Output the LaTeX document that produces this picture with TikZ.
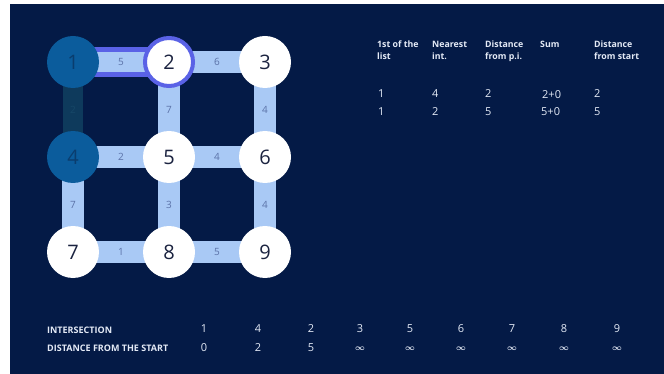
\documentclass[tikz,border=0pt]{standalone}
\usepackage{fontspec}
\setmainfont{Open Sans}
\usetikzlibrary{backgrounds}
\definecolor{navy}{HTML}{041A46}
\definecolor{edgeblue}{HTML}{A9C9F5}
\definecolor{hilite}{HTML}{5A62E6}
\definecolor{visited}{HTML}{0B5C9C}
\definecolor{visitedtxt}{HTML}{0A3D6E}
\definecolor{teal}{HTML}{0E3A5C}
\definecolor{teallab}{HTML}{164767}
\definecolor{elab}{HTML}{5B72A8}
\definecolor{ntxt}{HTML}{1B2340}
\definecolor{tabtxt}{HTML}{E4EAF6}
\pgfdeclarelayer{edges}
\pgfsetlayers{background,edges,main}
\tikzset{
  vnode/.style={circle, fill=white, minimum size=52pt, inner sep=0pt, text=ntxt, font=\fontsize{20}{22}\selectfont},
  donenode/.style={vnode, fill=visited, text=visitedtxt},
  curnode/.style={vnode, draw=hilite, line width=4pt, minimum size=48pt},
  edgebar/.style={draw=edgeblue, line width=22pt},
  doneedge/.style={draw=teal, line width=20pt},
  elabel/.style={text=elab, font=\fontsize{10}{12}\selectfont, inner sep=0pt},
  hdr/.style={text=tabtxt, font=\bfseries\fontsize{8.8}{12}\selectfont, anchor=north west, align=left, inner sep=0pt},
  val/.style={text=tabtxt, font=\fontsize{11}{13}\selectfont, anchor=west, inner sep=0pt},
  rowlab/.style={text=tabtxt, font=\bfseries\fontsize{9}{10}\selectfont, anchor=west, inner sep=0pt},
  bval/.style={text=tabtxt, font=\fontsize{11}{13}\selectfont, inner sep=0pt},
  inf/.style={text=tabtxt, font=\fontsize{8}{9}\selectfont\boldmath, inner sep=0pt}
}
\begin{document}
\begin{tikzpicture}[x=1pt,y=-1pt]
\useasboundingbox (0,0) rectangle (664,374);
\begin{pgfonlayer}{background}
\fill[white] (0,0) rectangle (664,374);
\fill[navy] (10,4) rectangle (664,374);
\end{pgfonlayer}
% nodes
\node[donenode] (n1) at (73,62) {1};
\node[curnode] (n2) at (169,62) {2};
\node[vnode] (n3) at (265,62) {3};
\node[donenode] (n4) at (73,157) {4};
\node[vnode] (n5) at (169,157) {5};
\node[vnode] (n6) at (265,157) {6};
\node[vnode] (n7) at (73,252) {7};
\node[vnode] (n8) at (169,252) {8};
\node[vnode] (n9) at (265,252) {9};
% edges
\begin{pgfonlayer}{edges}
\draw[draw=hilite, line width=30pt] (n1.center) -- (n2.center);
\draw[draw=edgeblue, line width=20pt] (n1.center) -- (n2.center) node[midway, elabel] {5};
\draw[edgebar] (n2.center) -- (n3.center) node[midway, elabel] {6};
\draw[doneedge] (n1.center) -- (n4.center) node[midway, elabel, text=teallab] {2};
\draw[edgebar] (n2.center) -- (n5.center) node[midway, elabel] {7};
\draw[edgebar] (n3.center) -- (n6.center) node[midway, elabel] {4};
\draw[edgebar] (n4.center) -- (n5.center) node[midway, elabel] {2};
\draw[edgebar] (n5.center) -- (n6.center) node[midway, elabel] {4};
\draw[edgebar] (n4.center) -- (n7.center) node[midway, elabel] {7};
\draw[edgebar] (n5.center) -- (n8.center) node[midway, elabel] {3};
\draw[edgebar] (n6.center) -- (n9.center) node[midway, elabel] {4};
\draw[edgebar] (n7.center) -- (n8.center) node[midway, elabel] {1};
\draw[edgebar] (n8.center) -- (n9.center) node[midway, elabel] {5};
\end{pgfonlayer}
% table headers
\node[hdr] (h1) at (377,41) {1st of the\\list};
\node[hdr] (h2) at (432,41) {Nearest\\int.};
\node[hdr] (h3) at (485,41) {Distance\\from p.i.};
\node[hdr] (h4) at (540,41) {Sum};
\node[hdr] (h5) at (594,41) {Distance\\from start};
% table values
\node[val] (a1) at (378,94) {1};
\node[val] (a2) at (432,94) {4};
\node[val] (a3) at (485,94) {2};
\node[val] (a4) at (542,95) {2+0};
\node[val] (a5) at (594,94) {2};
\node[val] (b1) at (378,112) {1};
\node[val] (b2) at (432,112) {2};
\node[val] (b3) at (485,112) {5};
\node[val] (b4) at (541,112) {5+0};
\node[val] (b5) at (594,112) {5};
% bottom rows
\node[rowlab] (r1) at (47,330) {INTERSECTION};
\node[rowlab] (r2) at (47,348) {DISTANCE FROM THE START};
\node[bval] (i1) at (204,329) {1};
\node[bval] (i2) at (258,329) {4};
\node[bval] (i3) at (311,329) {2};
\node[bval] (i4) at (360,329) {3};
\node[bval] (i5) at (410,329) {5};
\node[bval] (i6) at (461,329) {6};
\node[bval] (i7) at (512,329) {7};
\node[bval] (i8) at (564,329) {8};
\node[bval] (i9) at (617,329) {9};
\node[bval] (d1) at (204,348) {0};
\node[bval] (d2) at (258,348) {2};
\node[bval] (d3) at (311,348) {5};
\node[inf] (d4) at (360,349) {$\infty$};
\node[inf] (d5) at (410,349) {$\infty$};
\node[inf] (d6) at (461,349) {$\infty$};
\node[inf] (d7) at (512,349) {$\infty$};
\node[inf] (d8) at (564,349) {$\infty$};
\node[inf] (d9) at (617,349) {$\infty$};
\end{tikzpicture}
\end{document}
